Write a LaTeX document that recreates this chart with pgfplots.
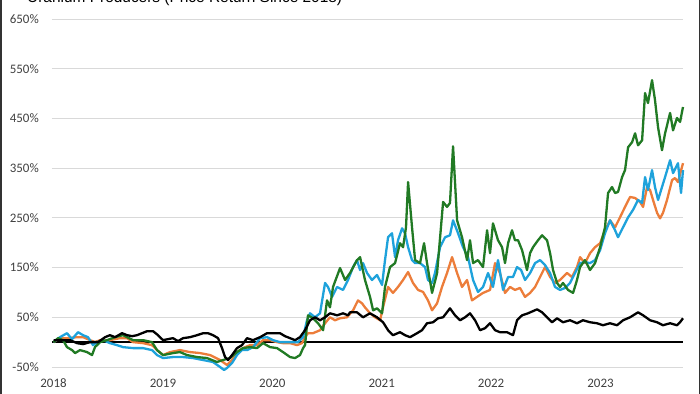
\documentclass[border=0pt]{standalone}
\usepackage{pgfplots}
\pgfplotsset{compat=1.18}
\usepackage{fontspec}
\setmainfont{Carlito}
\newfontfamily\titlefont{Liberation Sans}
\definecolor{cgreen}{HTML}{217A24}
\definecolor{corange}{HTML}{EC7D3A}
\definecolor{cblue}{HTML}{1EA2DB}
\definecolor{cgrid}{HTML}{D9D9D9}
\definecolor{clabel}{HTML}{404040}
\begin{document}
\begin{tikzpicture}
\begin{axis}[
  at={(52bp,27bp)}, anchor=south west,
  scale only axis, width=631bp, height=348bp,
  xmin=2017.986, xmax=2023.754, ymin=-50, ymax=650,
  clip=false,
  axis line style={draw=none},
  major tick length=0pt,
  xtick={2018,2019,2020,2021,2022,2023},
  xticklabels={2018,2019,2020,2021,2022,2023},
  ytick={-50,50,150,250,350,450,550,650},
  yticklabels={-50\%,50\%,150\%,250\%,350\%,450\%,550\%,650\%},
  ymajorgrids, grid style={cgrid, line width=1bp},
  /pgf/number format/assume math mode=true,
  ticklabel style={font=\fontsize{13}{15}\selectfont, text=clabel, inner sep=0pt},
  yticklabel style={anchor=east, xshift=-13bp},
  xticklabel style={anchor=base, yshift=-21bp},
  every axis plot/.append style={line width=2.3bp, line join=round},
]
\addplot[black, line width=2.2bp] coordinates {(2017.986,0) (2023.754,0)};
% Orange
\addplot[corange] coordinates {
(2018.000,0) (2018.059,8) (2018.123,8) (2018.215,10) (2018.270,10) (2018.334,4) (2018.379,0) (2018.425,4)
(2018.516,4) (2018.608,8) (2018.672,8) (2018.727,0) (2018.818,-2) (2018.900,-6) (2018.946,-16) (2019.001,-26)
(2019.065,-20) (2019.156,-16) (2019.248,-20) (2019.339,-22) (2019.431,-26) (2019.522,-36) (2019.586,-46) (2019.632,-36)
(2019.677,-20) (2019.732,-12) (2019.796,-6) (2019.860,-6) (2019.915,4) (2019.979,4) (2020.043,0) (2020.098,-2)
(2020.162,-2) (2020.226,-6) (2020.271,-2) (2020.299,10) (2020.326,18) (2020.372,18) (2020.436,24) (2020.482,38)
(2020.527,50) (2020.573,44) (2020.619,48) (2020.683,50) (2020.738,64) (2020.783,84) (2020.820,78) (2020.847,70)
(2020.893,58) (2020.939,50) (2020.985,44) (2021.012,70) (2021.058,111) (2021.103,99) (2021.149,111) (2021.195,125)
(2021.241,141) (2021.286,119) (2021.332,105) (2021.378,101) (2021.423,84) (2021.460,64) (2021.506,78) (2021.551,111)
(2021.597,139) (2021.643,171) (2021.689,139) (2021.734,111) (2021.780,125) (2021.825,84) (2021.871,91) (2021.926,99)
(2021.990,105) (2022.036,159) (2022.081,139) (2022.127,99) (2022.173,111) (2022.218,105) (2022.264,109) (2022.310,91)
(2022.356,99) (2022.402,111) (2022.447,131) (2022.493,151) (2022.539,131) (2022.584,119) (2022.630,125) (2022.694,139)
(2022.739,131) (2022.785,151) (2022.813,171) (2022.858,159) (2022.904,179) (2022.950,191) (2022.996,199) (2023.041,225)
(2023.087,245) (2023.133,231) (2023.178,251) (2023.224,272) (2023.270,292) (2023.316,290) (2023.361,282) (2023.389,272)
(2023.425,312) (2023.453,306) (2023.480,286) (2023.517,260) (2023.544,249) (2023.571,260) (2023.608,286) (2023.654,326)
(2023.681,330) (2023.708,322) (2023.754,360)
};
% Blue
\addplot[cblue] coordinates {
(2018.000,0) (2018.059,10) (2018.123,18) (2018.169,6) (2018.224,20) (2018.270,14) (2018.315,10) (2018.361,-6)
(2018.398,0) (2018.452,4) (2018.516,-2) (2018.580,-6) (2018.635,-10) (2018.727,-12) (2018.818,-12) (2018.900,-16)
(2018.946,-26) (2019.001,-32) (2019.092,-30) (2019.184,-30) (2019.275,-32) (2019.367,-36) (2019.458,-40) (2019.522,-50)
(2019.559,-56) (2019.586,-52) (2019.632,-42) (2019.677,-26) (2019.723,-16) (2019.769,-16) (2019.824,-10) (2019.888,8)
(2019.952,10) (2020.006,4) (2020.070,0) (2020.162,0) (2020.235,0) (2020.281,10) (2020.317,44) (2020.345,58)
(2020.390,50) (2020.436,58) (2020.482,119) (2020.509,111) (2020.546,91) (2020.592,111) (2020.646,105) (2020.692,125)
(2020.738,151) (2020.774,165) (2020.802,145) (2020.829,159) (2020.866,139) (2020.911,125) (2020.957,135) (2021.003,115)
(2021.030,165) (2021.058,211) (2021.094,219) (2021.122,171) (2021.149,205) (2021.186,229) (2021.213,219) (2021.241,191)
(2021.277,165) (2021.305,159) (2021.350,159) (2021.396,151) (2021.423,125) (2021.460,119) (2021.487,139) (2021.533,191)
(2021.579,211) (2021.624,215) (2021.652,245) (2021.698,219) (2021.743,191) (2021.789,171) (2021.835,125) (2021.880,101)
(2021.926,111) (2021.972,139) (2022.017,111) (2022.063,165) (2022.109,105) (2022.155,131) (2022.200,131) (2022.237,151)
(2022.274,145) (2022.310,125) (2022.356,139) (2022.402,159) (2022.447,165) (2022.493,155) (2022.539,139) (2022.584,111)
(2022.630,105) (2022.676,109) (2022.721,119) (2022.767,139) (2022.813,159) (2022.858,161) (2022.904,159) (2022.950,165)
(2022.996,185) (2023.041,219) (2023.087,245) (2023.133,225) (2023.160,211) (2023.206,231) (2023.252,251) (2023.297,266)
(2023.343,286) (2023.380,280) (2023.407,332) (2023.434,306) (2023.471,346) (2023.498,312) (2023.526,286) (2023.562,312)
(2023.590,332) (2023.636,366) (2023.663,340) (2023.708,360) (2023.736,300) (2023.754,346)
};
% Green
\addplot[cgreen] coordinates {
(2018.000,0) (2018.041,8) (2018.087,4) (2018.123,-10) (2018.169,-16) (2018.197,-22) (2018.242,-16) (2018.306,-20)
(2018.352,-26) (2018.379,-10) (2018.425,0) (2018.489,4) (2018.562,10) (2018.635,14) (2018.727,4) (2018.818,4)
(2018.900,0) (2018.946,-16) (2019.001,-26) (2019.092,-22) (2019.156,-20) (2019.220,-26) (2019.312,-30) (2019.403,-32)
(2019.494,-40) (2019.549,-36) (2019.613,-32) (2019.677,-20) (2019.732,-12) (2019.796,-10) (2019.860,-12) (2019.915,-2)
(2019.979,-10) (2020.043,-12) (2020.098,-20) (2020.162,-30) (2020.208,-32) (2020.253,-26) (2020.281,-12) (2020.299,-6)
(2020.326,54) (2020.372,48) (2020.390,44) (2020.418,38) (2020.464,24) (2020.500,84) (2020.527,70) (2020.555,111)
(2020.619,149) (2020.665,125) (2020.710,139) (2020.774,165) (2020.802,171) (2020.847,125) (2020.893,91) (2020.921,64)
(2020.957,68) (2021.003,58) (2021.030,111) (2021.076,151) (2021.122,159) (2021.167,199) (2021.195,191) (2021.222,231)
(2021.241,322) (2021.277,231) (2021.305,165) (2021.350,159) (2021.387,199) (2021.414,159) (2021.460,99) (2021.506,139)
(2021.561,282) (2021.597,272) (2021.624,280) (2021.652,394) (2021.689,245) (2021.734,211) (2021.780,165) (2021.807,205)
(2021.835,159) (2021.880,165) (2021.926,151) (2021.963,225) (2021.990,179) (2022.017,239) (2022.063,205) (2022.100,191)
(2022.127,159) (2022.155,199) (2022.191,225) (2022.218,205) (2022.246,205) (2022.283,185) (2022.328,145) (2022.356,179)
(2022.383,191) (2022.429,205) (2022.466,215) (2022.511,205) (2022.539,179) (2022.566,145) (2022.603,119) (2022.630,111)
(2022.657,119) (2022.703,105) (2022.749,99) (2022.785,125) (2022.813,151) (2022.858,165) (2022.904,145) (2022.950,159)
(2022.996,191) (2023.041,231) (2023.069,300) (2023.105,312) (2023.133,300) (2023.160,302) (2023.197,332) (2023.224,346)
(2023.252,392) (2023.288,402) (2023.316,420) (2023.343,396) (2023.380,406) (2023.407,501) (2023.434,481) (2023.471,527)
(2023.498,487) (2023.526,432) (2023.562,386) (2023.590,420) (2023.636,461) (2023.663,426) (2023.699,451) (2023.727,443)
(2023.754,473)
};
% Black
\addplot[black] coordinates {
(2018.000,4) (2018.151,4) (2018.215,-2) (2018.270,-4) (2018.334,0) (2018.407,0) (2018.471,10) (2018.516,14)
(2018.562,10) (2018.626,18) (2018.672,14) (2018.718,12) (2018.763,14) (2018.809,18) (2018.855,22) (2018.910,22)
(2018.955,14) (2019.001,4) (2019.047,6) (2019.092,8) (2019.138,2) (2019.184,8) (2019.248,10) (2019.312,14)
(2019.367,18) (2019.412,18) (2019.458,14) (2019.504,8) (2019.540,-12) (2019.568,-30) (2019.595,-36) (2019.632,-26)
(2019.677,-12) (2019.723,-6) (2019.769,8) (2019.824,4) (2019.888,10) (2019.952,18) (2020.006,18) (2020.070,18)
(2020.116,12) (2020.162,8) (2020.208,4) (2020.253,10) (2020.299,24) (2020.345,44) (2020.390,50) (2020.436,44)
(2020.482,50) (2020.527,58) (2020.592,54) (2020.646,58) (2020.692,54) (2020.710,60) (2020.774,60) (2020.829,50)
(2020.893,58) (2020.957,50) (2021.012,40) (2021.058,24) (2021.103,14) (2021.167,20) (2021.213,14) (2021.259,10)
(2021.323,18) (2021.368,24) (2021.414,38) (2021.469,40) (2021.515,48) (2021.561,50) (2021.624,68) (2021.670,54)
(2021.716,44) (2021.762,50) (2021.807,58) (2021.853,44) (2021.899,24) (2021.944,28) (2021.990,38) (2022.036,24)
(2022.081,20) (2022.145,20) (2022.200,14) (2022.237,44) (2022.283,54) (2022.337,58) (2022.420,66) (2022.466,60)
(2022.511,50) (2022.557,40) (2022.603,48) (2022.657,40) (2022.721,44) (2022.785,38) (2022.840,44) (2022.904,40)
(2022.968,38) (2023.023,34) (2023.087,38) (2023.151,34) (2023.206,44) (2023.270,50) (2023.343,60) (2023.389,54)
(2023.453,44) (2023.517,40) (2023.571,34) (2023.636,38) (2023.699,34) (2023.727,40) (2023.754,48)
};
\end{axis}
\node[anchor=base west, inner sep=0pt, font=\titlefont\fontsize{15.5}{18}\selectfont] at (27bp,391.5bp) {Uranium Producers (Price Return Since 2018)};
\draw[line width=1.5bp, black!80] (0.75bp,0) -- (0.75bp,394bp);
\draw[line width=1.5bp, black!80] (699.25bp,0) -- (699.25bp,394bp);
\pgfresetboundingbox
\path[use as bounding box] (0,0) rectangle (700bp,394bp);
\end{tikzpicture}
\end{document}
